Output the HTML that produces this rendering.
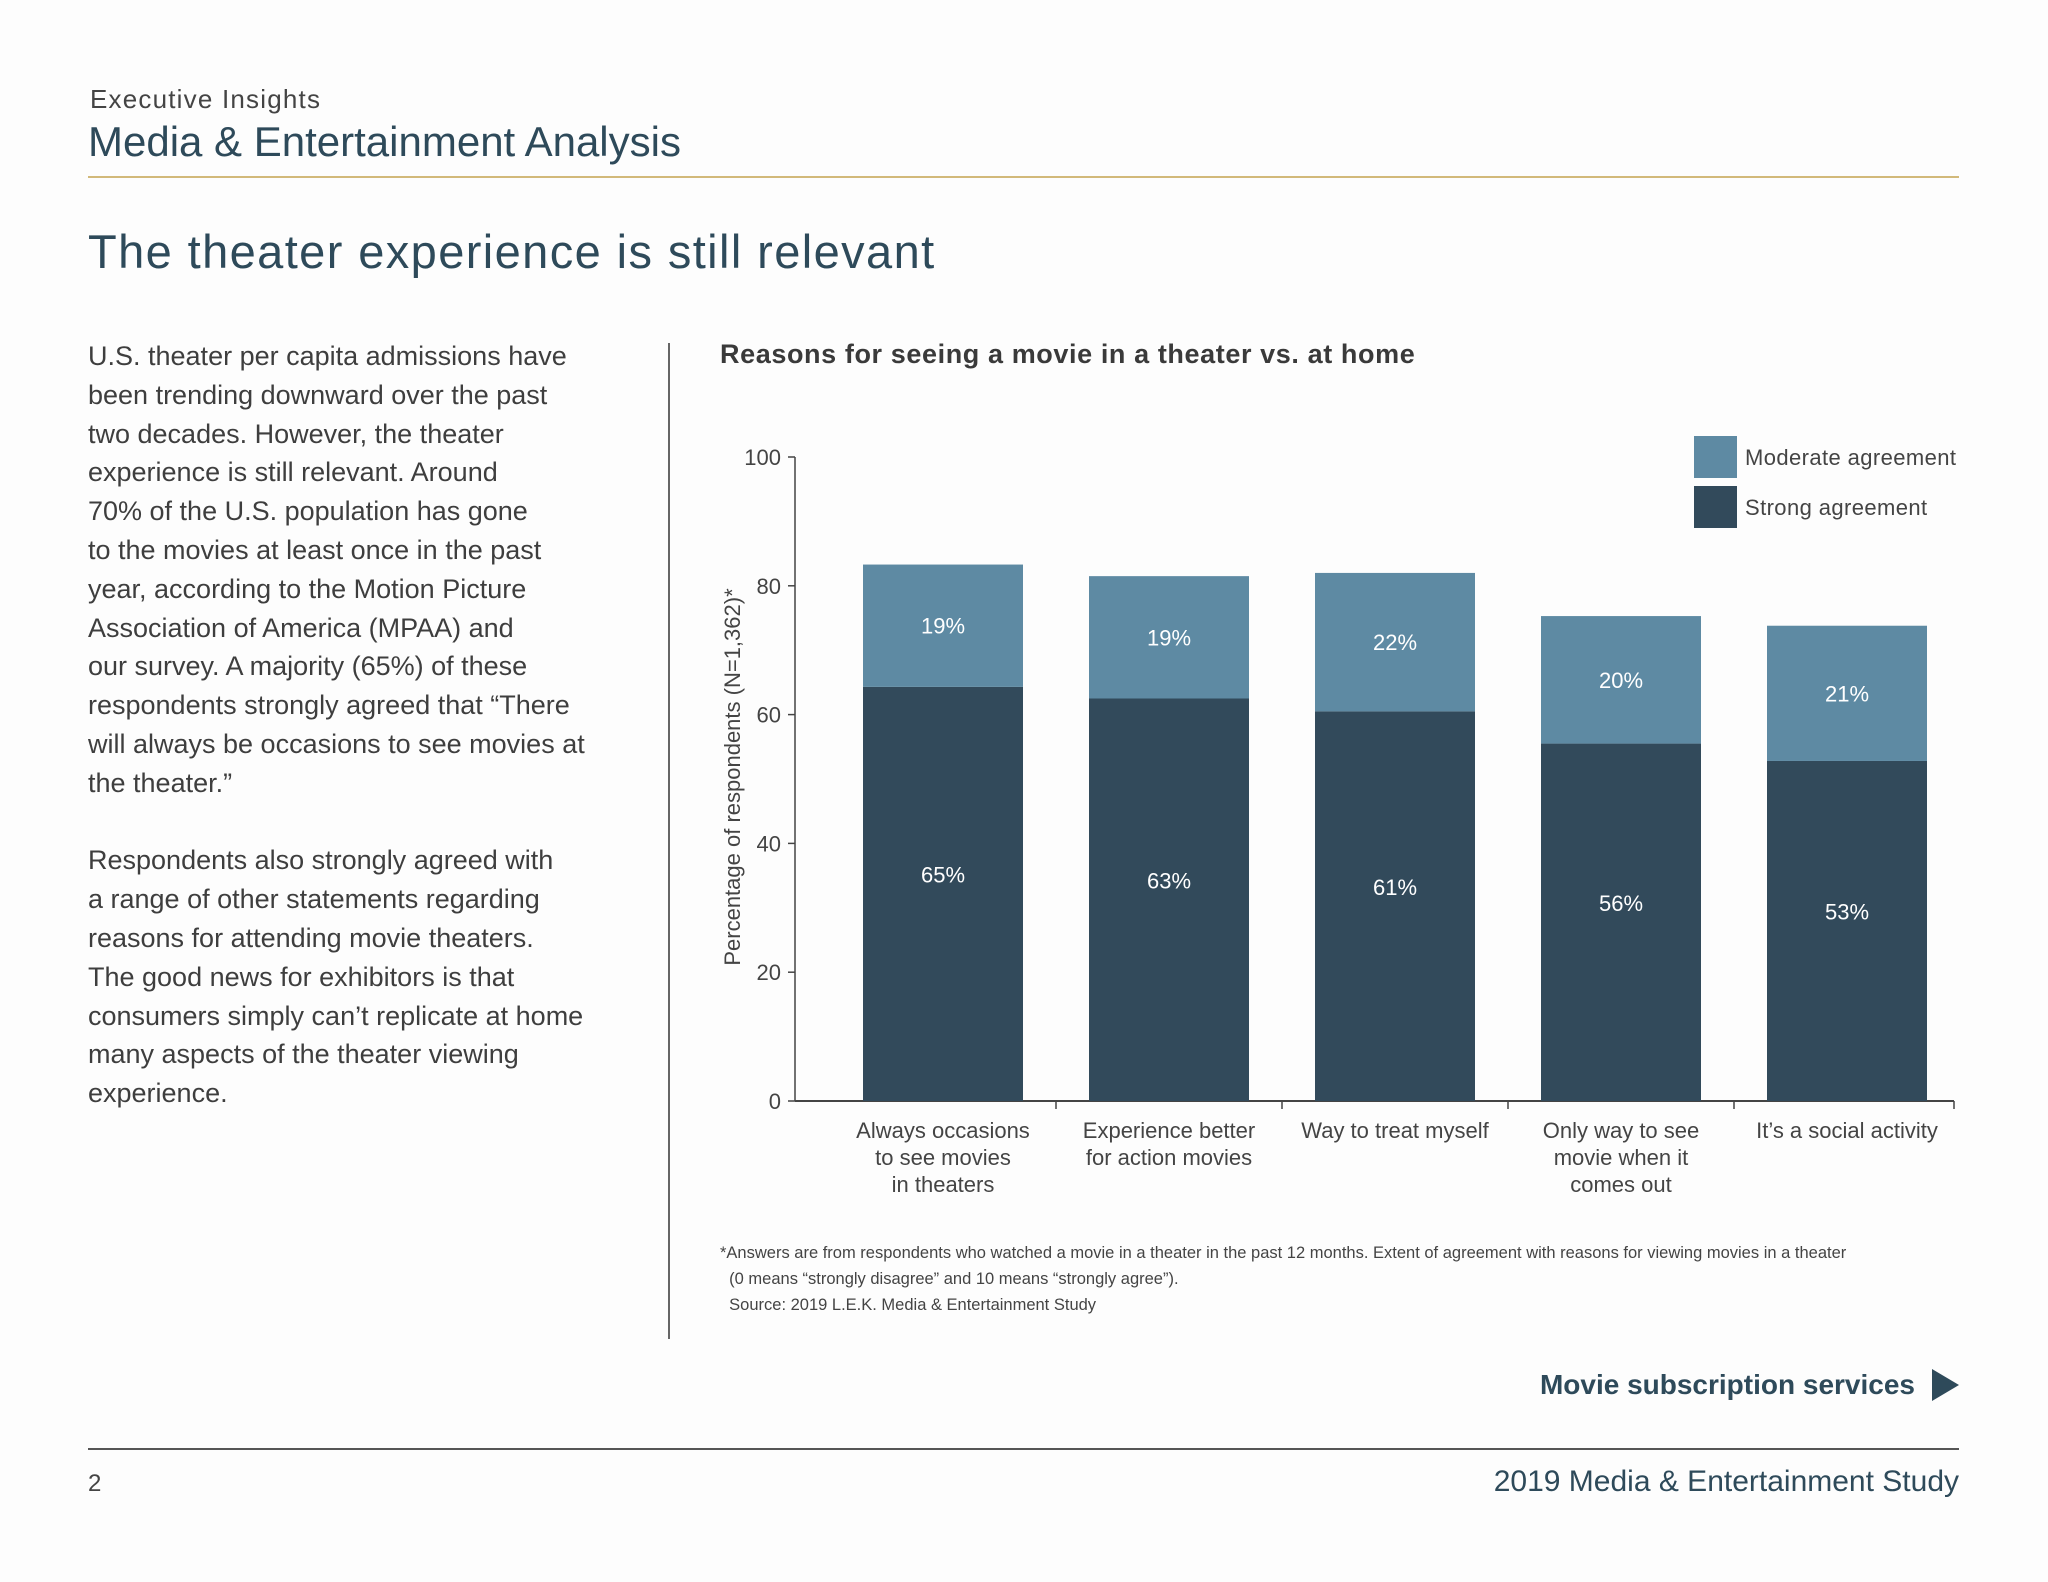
<!DOCTYPE html>
<html><head><meta charset="utf-8"><style>
body{margin:0;width:2048px;height:1582px;background:#fdfdfd;font-family:"Liberation Sans",sans-serif;color:#3a3a3a;position:relative;overflow:hidden}
.a{position:absolute;white-space:nowrap}
</style></head><body>
<div class="a" style="left:90px;top:84px;font-size:26px;color:#444;letter-spacing:1.2px">Executive Insights</div>
<div class="a" style="left:88px;top:118px;font-size:42px;color:#2e4a5a">Media &amp; Entertainment Analysis</div>
<div class="a" style="left:88px;top:176px;width:1871px;height:2px;background:#d2b97a"></div>
<div class="a" style="left:88px;top:224px;font-size:47px;color:#2e4a5a;letter-spacing:1.4px">The theater experience is still relevant</div>
<div class="a" style="left:88px;top:337px;font-size:27px;line-height:38.8px;color:#3e3e3e">U.S. theater per capita admissions have<br>been trending downward over the past<br>two decades. However, the theater<br>experience is still relevant. Around<br>70% of the U.S. population has gone<br>to the movies at least once in the past<br>year, according to the Motion Picture<br>Association of America (MPAA) and<br>our survey. A majority (65%) of these<br>respondents strongly agreed that “There<br>will always be occasions to see movies at<br>the theater.”<br><br>Respondents also strongly agreed with<br>a range of other statements regarding<br>reasons for attending movie theaters.<br>The good news for exhibitors is that<br>consumers simply can’t replicate at home<br>many aspects of the theater viewing<br>experience.</div>
<div class="a" style="left:668px;top:343px;width:2px;height:996px;background:#666"></div>
<div class="a" style="left:720px;top:339px;font-size:27px;font-weight:bold;color:#3a3a3a;letter-spacing:0.6px">Reasons for seeing a movie in a theater vs. at home</div>
<svg id="chart" class="a" style="left:0;top:0" width="2048" height="1582"></svg>
<div class="a" style="left:720px;top:1240px;font-size:16.5px;line-height:26px;color:#444">*Answers are from respondents who watched a movie in a theater in the past 12 months. Extent of agreement with reasons for viewing movies in a theater<br>&nbsp;&nbsp;(0 means “strongly disagree” and 10 means “strongly agree”).<br>&nbsp;&nbsp;Source: 2019 L.E.K. Media &amp; Entertainment Study</div>
<div class="a" style="right:133px;top:1369px;font-size:28px;font-weight:bold;color:#2e4a5a">Movie subscription services</div>
<svg class="a" style="left:1930px;top:1369px" width="30" height="32"><polygon points="2,0 29,16 2,32" fill="#2e4a5a"/></svg>
<div class="a" style="left:88px;top:1448px;width:1871px;height:2px;background:#555"></div>
<div class="a" style="left:88px;top:1470px;font-size:24px;color:#444">2</div>
<div class="a" style="right:89px;top:1465px;font-size:30px;color:#2e4a5a">2019 Media &amp; Entertainment Study</div>
<script>
const categories=[["Always occasions","to see movies","in theaters"],["Experience better","for action movies"],["Way to treat myself"],["Only way to see","movie when it","comes out"],["It’s a social activity"]];
const strongValues=[64.3,62.5,60.5,55.5,52.8];
const moderateValues=[19,19,21.5,19.8,21];
const strongLabels=["65%","63%","61%","56%","53%"];
const moderateLabels=["19%","19%","22%","20%","21%"];
const yTicks=[0,20,40,60,80,100];
const NS="http://www.w3.org/2000/svg";
const svg=document.getElementById('chart');
const x0=795,x1=1954,yb=1101,yt=457,step=226,bw=160,first=943;
const y=v=>yb-(v/100)*(yb-yt);
const cx=i=>first+i*step;
function mk(t,a,p){const e=document.createElementNS(NS,t);for(const k in a)e.setAttribute(k,a[k]);(p||svg).appendChild(e);return e;}
mk('line',{x1:x0,y1:yt,x2:x0,y2:yb,stroke:'#444','stroke-width':1.5});
mk('line',{x1:x0,y1:yb,x2:x1,y2:yb,stroke:'#444','stroke-width':2});
yTicks.forEach(v=>{
const l=mk('line',{x1:x0-7,y1:y(v),x2:x0,y2:y(v),stroke:'#444','stroke-width':1.5});


const t=mk('text',{x:x0-14,y:y(v)+8,'text-anchor':'end','font-size':22,fill:'#444','font-family':'Liberation Sans'});
t.textContent=v;


});
for(let i=1;i<categories.length;i++){mk('line',{x1:cx(i)-step/2,y1:yb,x2:cx(i)-step/2,y2:yb+8,stroke:'#444','stroke-width':1.5});}
mk('line',{x1:x1,y1:yb,x2:x1,y2:yb+8,stroke:'#444','stroke-width':1.5});
const yt2=mk('text',{transform:`translate(740,777) rotate(-90)`,'text-anchor':'middle','font-size':22,fill:'#444','font-family':'Liberation Sans'});
yt2.textContent='Percentage of respondents (N=1,362)*';


categories.forEach((c,i)=>{
const s=strongValues[i],m=moderateValues[i];
const r1=mk('rect',{x:cx(i)-bw/2,y:y(s),width:bw,height:yb-y(s),fill:'#324a5b'});


const r2=mk('rect',{x:cx(i)-bw/2,y:y(s+m),width:bw,height:y(s)-y(s+m),fill:'#5e8aa3'});


const t1=mk('text',{x:cx(i),y:y(s/2+3)+8,'text-anchor':'middle','font-size':22,fill:'#fff','font-family':'Liberation Sans'});
t1.textContent=strongLabels[i];


const t2=mk('text',{x:cx(i),y:y(s+m/2)+8,'text-anchor':'middle','font-size':22,fill:'#fff','font-family':'Liberation Sans'});
t2.textContent=moderateLabels[i];


c.forEach((line,j)=>{
const t=mk('text',{x:cx(i),y:1138+j*27,'text-anchor':'middle','font-size':22,fill:'#444','font-family':'Liberation Sans'});
t.textContent=line;


});
});
[["Moderate agreement","#5e8aa3",436],["Strong agreement","#324a5b",486]].forEach(d=>{
const r=mk('rect',{x:1694,y:d[2],width:43,height:42,fill:d[1]});


const t=mk('text',{x:1745,y:d[2]+29,'font-size':22,fill:'#444','font-family':'Liberation Sans','letter-spacing':0.4});
t.textContent=d[0];


});
</script>
</body></html>
